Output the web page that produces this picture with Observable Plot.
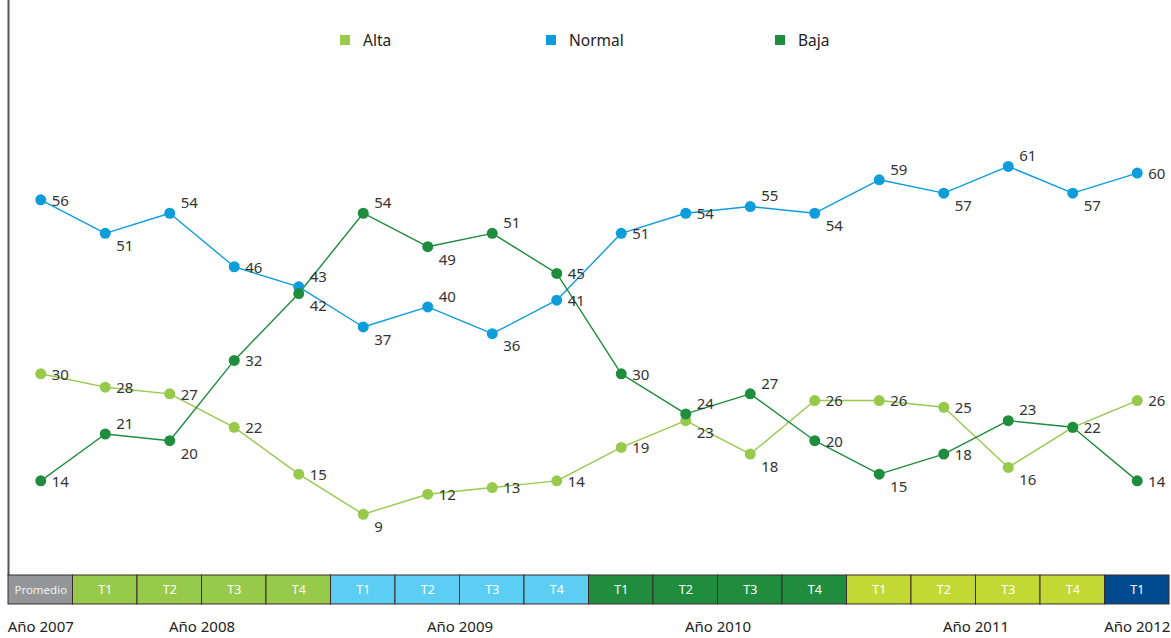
<!DOCTYPE html>
<html>
<head>
<meta charset="utf-8">
<script src="https://cdn.jsdelivr.net/npm/d3@7"></script>
<script src="https://cdn.jsdelivr.net/npm/@observablehq/plot@0.6"></script>
<style>
  body { margin: 0; background: #fff; font-family: "Noto Sans", sans-serif; }
  #wrap { position: relative; width: 1171px; height: 638px; }
  .leg { position: absolute; top: 29px; display: flex; align-items: center; font-size: 15.5px; color: #222; }
  .leg span.sw { display: inline-block; width: 10px; height: 10px; margin-right: 13px; }
</style>
</head>
<body>
<div id="wrap"></div>
<script>
// ---- data ----
const periodLabels = ["Promedio","T1","T2","T3","T4","T1","T2","T3","T4","T1","T2","T3","T4","T1","T2","T3","T4","T1"];
const periodYears  = [2007,2008,2008,2008,2008,2009,2009,2009,2009,2010,2010,2010,2010,2011,2011,2011,2011,2012];
const alta   = [30,28,27,22,15, 9,12,13,14,19,23,18,26,26,25,16,22,26];
const normal = [56,51,54,46,43,37,40,36,41,51,54,55,54,59,57,61,57,60];
const baja   = [14,21,20,32,42,54,49,51,45,30,24,27,20,15,18,23,22,14];
const seriesNames = ["Alta","Normal","Baja"];
const seriesColors = {Alta: "#97c94b", Normal: "#0d9ddb", Baja: "#1f8c3e"};
const yearColors = {2007: "#939598", 2008: "#97c94b", 2009: "#5ccdf3", 2010: "#1f8c3e", 2011: "#c2d935", 2012: "#004b90"};
const yearNames = ["Año 2007","Año 2008","Año 2009","Año 2010","Año 2011","Año 2012"];
const yearValues = [2007,2008,2009,2010,2011,2012];

// ---- derived tables ----
const periods = periodLabels.map((l, i) => `${l} ${periodYears[i]}`);
const bandRows = periods.map((p, i) => ({period: p, label: periodLabels[i], year: periodYears[i]}));
const valuesBy = {Alta: alta, Normal: normal, Baja: baja};
const points = [];
for (const s of seriesNames) {
  const v = valuesBy[s];
  v.forEach((val, i) => {
    const prev = i > 0 ? v[i - 1] : null, next = i < v.length - 1 ? v[i + 1] : null;
    let pos = "right";
    if (prev !== null && next !== null) {
      if (val < prev && val < next) pos = "below";
      else if (val > prev && val > next) pos = "above";
    }
    // resolve near-collisions with another series at the same period
    let duplicate = false;
    for (const o of seriesNames) {
      if (o === s) continue;
      const ov = valuesBy[o][i];
      if (ov === val) { if (seriesNames.indexOf(o) < seriesNames.indexOf(s)) duplicate = true; }
      else if (Math.abs(ov - val) <= 2) pos = val > ov ? "above" : "below";
    }
    points.push({series: s, period: periods[i], value: val, pos, duplicate});
  });
}
const labels = points.filter(d => !d.duplicate);
// year labels: centred under single cell, or at the middle of a 4-quarter block
const yearLabelRows = yearValues.map((y, k) => {
  const idx = periodYears.map((py, i) => py === y ? i : -1).filter(i => i >= 0);
  const multi = idx.length > 1;
  return {label: yearNames[k], period: periods[multi ? idx[Math.floor(idx.length / 2)] : idx[0]], multi};
});

const bw = (1169 - 8) / periods.length;

const chart = Plot.plot({
  width: 1171,
  height: 638,
  marginLeft: 8,
  marginRight: 2,
  marginTop: 0,
  marginBottom: 64,
  style: {fontFamily: "Noto Sans, sans-serif", background: "#fff"},
  x: {type: "band", domain: periods, padding: 0, round: false, axis: null},
  y: {domain: [0, 85.8], axis: null},
  marks: [
    Plot.frame({anchor: "left", stroke: "#555", strokeWidth: 2}),
    Plot.barY(bandRows, {x: "period", y1: -0.15, y2: -4.48, fill: d => yearColors[d.year], stroke: "#3b2a2a", strokeWidth: 1}),
    Plot.text(bandRows, {x: "period", y: -2.3, text: "label", fill: d => d.year === 2007 ? "#f2f2f2" : "#fff", fontSize: d => d.year === 2007 ? 11.5 : 12.5}),
    Plot.text(yearLabelRows.filter(d => !d.multi), {x: "period", y: -7.9, text: "label", fill: "#222", fontSize: 15}),
    Plot.text(yearLabelRows.filter(d => d.multi), {x: "period", y: -7.9, dx: -bw / 2, text: "label", fill: "#222", fontSize: 15}),
    Plot.line(points, {x: "period", y: "value", z: "series", stroke: d => seriesColors[d.series], strokeWidth: 1.4}),
    Plot.dot(points, {x: "period", y: "value", fill: d => seriesColors[d.series], r: 5.5}),
    Plot.text(labels.filter(d => d.pos === "right"), {x: "period", y: "value", text: "value", textAnchor: "start", dx: 11, dy: 1, fill: "#333", fontSize: 15}),
    Plot.text(labels.filter(d => d.pos === "above"), {x: "period", y: "value", text: "value", textAnchor: "start", dx: 11, dy: -10, fill: "#333", fontSize: 15}),
    Plot.text(labels.filter(d => d.pos === "below"), {x: "period", y: "value", text: "value", textAnchor: "start", dx: 11, dy: 13, fill: "#333", fontSize: 15})
  ]
});
const wrap = document.getElementById("wrap");
wrap.appendChild(chart);

// legend
const legendLeft = {Alta: 340, Normal: 546, Baja: 775};
for (const s of seriesNames) {
  const d = document.createElement("div");
  d.className = "leg";
  d.style.left = legendLeft[s] + "px";
  d.innerHTML = `<span class="sw" style="background:${seriesColors[s]}"></span>${s}`;
  wrap.appendChild(d);
}
</script>
</body>
</html>
